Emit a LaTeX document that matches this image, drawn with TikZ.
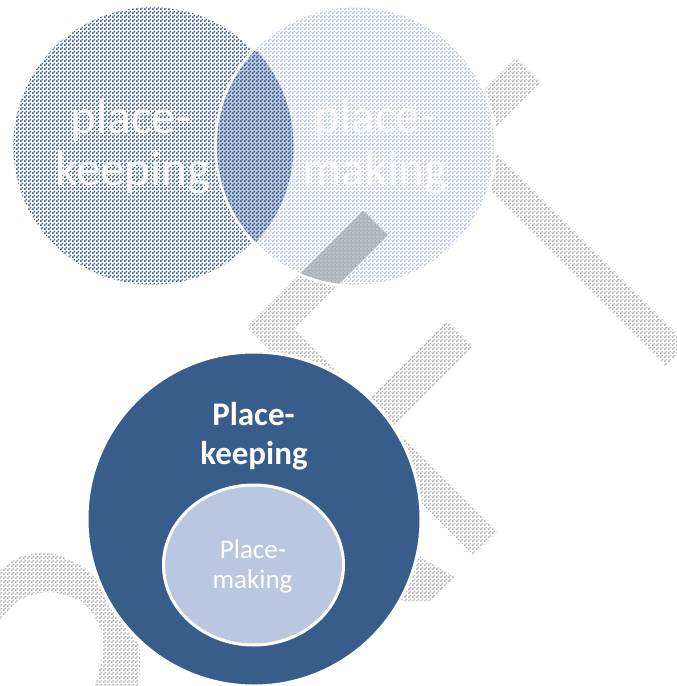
\documentclass[tikz,border=0pt]{standalone}
\usepackage{fontspec}
\usetikzlibrary{shapes.geometric,patterns}
\setmainfont{Carlito}
\definecolor{dkblue}{HTML}{385D8A}
\definecolor{ltblue}{HTML}{B9C7E0}
\definecolor{wmcell}{HTML}{B3B3B3}
\pgfdeclarepatternformonly{checkerpat}{\pgfpointorigin}{\pgfqpoint{4pt}{4pt}}{\pgfqpoint{4pt}{4pt}}{%
  \pgfpathrectangle{\pgfpointorigin}{\pgfqpoint{2pt}{2pt}}%
  \pgfpathrectangle{\pgfqpoint{2pt}{2pt}}{\pgfqpoint{2pt}{2pt}}%
  \pgfusepath{fill}}
\begin{document}
\begin{tikzpicture}[x=1pt,y=-1pt,
  wm/.style={pattern=checkerpat, pattern color=wmcell},
  topcircle/.style={circle, draw=white, line width=2.5pt, inner sep=0pt, minimum size=280pt, fill=white},
  toptext/.style={anchor=base, inner sep=0pt, text=white, font=\fontsize{49}{52}\selectfont},
  bigtext/.style={anchor=base, inner sep=0pt, text=white, font=\bfseries\fontsize{33}{39}\selectfont},
  smalltext/.style={anchor=base, inner sep=0pt, text=white, font=\fontsize{27}{30}\selectfont}]
\useasboundingbox (0,0) rectangle (677,686);
\fill[white] (0,0) rectangle (677,686);
% watermark
\begin{scope}
\clip (0,0) rectangle (677,686);
\fill[wm] (247,327) -- (516.25,57.75) -- (540.75,82.25) -- (294.5,328.5) -- (497.5,531.5) -- (473.5,555.5) -- cycle;
\fill[wm] (471.5,128.5) -- (450,150) -- (666,366) -- (687.5,344.5) -- cycle;
\fill[wm] (446.75,320.25) -- (473.25,346.75) -- (370,450) -- (343.5,423.5) -- cycle;
\fill[wm] (420,557) -- (455,577) -- (431,601) -- (390,601) -- (390,557) -- cycle;
\fill[wm] plot[smooth] coordinates {(-10,578) (0,570) (20,557) (50,553) (83,567) (103,587) (122,612) (133,633) (140,653) (138,692)}
  -- plot[smooth] coordinates {(93,692) (103,653) (100,627) (83,603) (50,592) (20,600) (0,620) (-10,630)} -- cycle;
\end{scope}
% top Venn
\node[topcircle] (keepc) at (152,146) {};
\fill[pattern=checkerpat, pattern color=dkblue] (152,146) circle (138.75);
\node[topcircle] (makec) at (355.5,146) {};
\fill[pattern=checkerpat, pattern color=ltblue] (355.5,146) circle (138.75);
\begin{scope}
\clip (355.5,146) circle (138.75);
\fill[wmcell] (363.5,210.5) -- (388,235) -- (294.5,328.5) -- (247,327) -- cycle;
\fill[pattern=checkerpat, pattern color=ltblue] (363.5,210.5) -- (388,235) -- (294.5,328.5) -- (247,327) -- cycle;
\end{scope}
\begin{scope}
\clip (152,146) circle (141.5);
\fill[ltblue] (355.5,146) circle (140);
\fill[pattern=checkerpat, pattern color=dkblue] (355.5,146) circle (140);
\end{scope}
\draw[white, line width=2.5pt] (355.5,146) circle (140);
\node[toptext] (k1) at (131,133) {place-};
\node[toptext] (k2) at (133,185) {keeping};
\node[toptext] (m1) at (375,132) {place-};
\node[toptext] (m2) at (375,185) {making};
% bottom nested
\node[circle, draw=white, fill=dkblue, line width=3pt, inner sep=0pt, minimum size=334pt] (outer) at (254,519) {};
\node[ellipse, draw=white, fill=ltblue, line width=3pt, inner sep=0pt, minimum width=180pt, minimum height=160pt] (inner) at (253.5,565) {};
\node[bigtext] (o1) at (253.5,425.5) {Place-};
\node[bigtext] (o2) at (254,464) {keeping};
\node[smalltext] (i1) at (253,558) {Place-};
\node[smalltext] (i2) at (252.5,588.5) {making};
\end{tikzpicture}
\end{document}
